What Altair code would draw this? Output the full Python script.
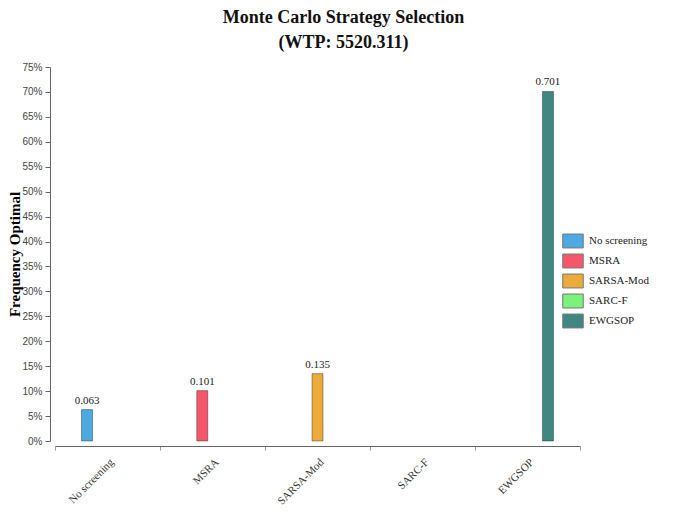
import altair as alt
import pandas as pd

strategies = ["No screening", "MSRA", "SARSA-Mod", "SARC-F", "EWGSOP"]
freq = [0.063, 0.101, 0.135, 0.0, 0.701]
colors = ["#4da9e2", "#f6566b", "#ebab3b", "#7af27c", "#3f8782"]
title_lines = ["Monte Carlo Strategy Selection", "(WTP: 5520.311)"]
y_ticks = [0.0, 0.05, 0.10, 0.15, 0.20, 0.25, 0.30, 0.35, 0.40, 0.45, 0.50, 0.55, 0.60, 0.65, 0.70, 0.75]

df = pd.DataFrame({"strategy": strategies, "freq": freq})
df["label"] = df["freq"].map(lambda v: f"{v:.3f}")

SERIF = "Liberation Serif"

color_scale = alt.Scale(domain=strategies, range=colors)
x_point = alt.X("strategy:N", sort=strategies,
                scale=alt.Scale(type="point", domain=strategies, padding=0.278), axis=None)
y_axis = alt.Axis(values=y_ticks, format=".0%", title="Frequency Optimal",
                  grid=False, offset=5, tickSize=5, labelPadding=3,
                  labelOverlap=False, labelFlush=False,
                  labelFont="Liberation Sans", labelFontSize=10, labelColor="#444",
                  domainColor="#666", tickColor="#666",
                  titleFont=SERIF, titleFontSize=15, titleFontWeight="bold",
                  titleColor="#000", titleX=-28, titleBaseline="bottom")
y_enc = alt.Y("freq:Q", scale=alt.Scale(domain=[0, 0.75], nice=False, zero=True), axis=y_axis)

bars = alt.Chart(df).transform_filter("datum.freq > 0").mark_bar(
    size=11, stroke="#000", strokeOpacity=0.35, strokeWidth=1
).encode(
    x=x_point,
    y=y_enc,
    color=alt.Color("strategy:N", scale=color_scale, sort=strategies,
                    legend=alt.Legend(title=None, orient="none", legendX=507, legendY=163,
                                      labelFont=SERIF, labelFontSize=11, labelColor="#222",
                                      symbolType="M-1,-0.68H1V0.68H-1Z", symbolSize=420,
                                      symbolStrokeColor="#777", symbolStrokeWidth=1,
                                      symbolOpacity=1, rowPadding=0, labelOffset=5)),
)

texts = alt.Chart(df).transform_filter("datum.freq > 0").mark_text(
    dy=-9, font=SERIF, fontSize=11, color="#222"
).encode(
    x=x_point,
    y=y_enc,
    text="label:N",
)

axis_layer = alt.Chart(df).mark_rule(opacity=0).encode(
    x=alt.X("strategy:N", sort=strategies,
            scale=alt.Scale(type="band", domain=strategies, paddingInner=0, paddingOuter=0),
            axis=alt.Axis(title=None, labelAngle=-45, tickBand="extent", offset=5,
                          tickSize=4, labelFont=SERIF, labelFontSize=11, labelColor="#333",
                          domainColor="#666", tickColor="#999", labelPadding=6)),
)

chart = alt.layer(bars, texts, axis_layer).resolve_scale(x="independent").properties(
    width=525,
    height=374,
    title=alt.TitleParams(text=title_lines, font=SERIF, fontSize=18, fontWeight="bold",
                          color="#111", anchor="middle", dx=26, offset=10, lineHeight=25),
    autosize=alt.AutoSizeParams(type="none"),
    padding={"left": 47, "top": 59, "right": 97, "bottom": 70},
).configure_view(stroke=None)

chart.save("out.html", embed_options={"renderer": "svg", "actions": False})
